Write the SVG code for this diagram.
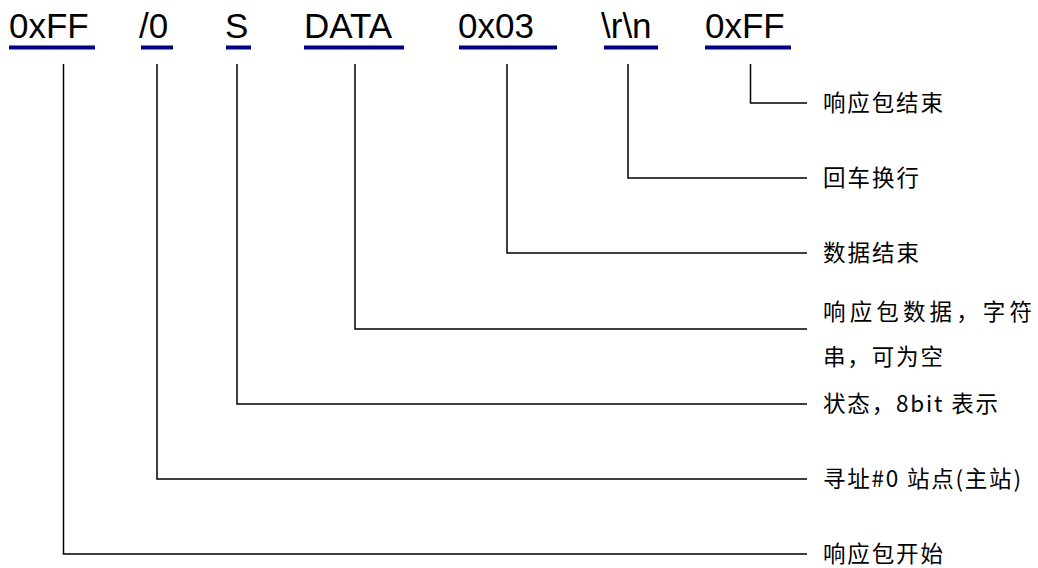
<svg xmlns="http://www.w3.org/2000/svg" width="1038" height="568" viewBox="0 0 1038 568">
<style>
.hdr{font-family:"Liberation Sans",Arial,sans-serif;font-size:35px;fill:#000}
.ul{fill:#000080}
.lbl{font-family:"Noto Sans CJK SC","Noto Sans",sans-serif;font-size:22.5px;fill:#000}
.con{fill:none;stroke:#000;stroke-width:1.5}
</style>
<rect width="1038" height="568" fill="#fff"/>
<g id="f-start"><text class="hdr" x="9" y="37.5">0xFF</text><rect class="ul" x="9" y="45.5" width="86" height="4"/></g>
<g id="f-addr"><text class="hdr" x="139" y="37.5">/0</text><rect class="ul" x="141" y="45.5" width="32" height="4"/></g>
<g id="f-status"><text class="hdr" x="225" y="37.5">S</text><rect class="ul" x="226" y="45.5" width="25" height="4"/></g>
<g id="f-data"><text class="hdr" x="304" y="37.5">DATA</text><rect class="ul" x="304" y="45.5" width="100" height="4"/></g>
<g id="f-etx"><text class="hdr" x="458" y="37.5">0x03</text><rect class="ul" x="459" y="45.5" width="98" height="4"/></g>
<g id="f-crlf"><text class="hdr" x="601" y="37.5">\r\n</text><rect class="ul" x="604" y="45.5" width="54" height="4"/></g>
<g id="f-end"><text class="hdr" x="705" y="37.5">0xFF</text><rect class="ul" x="705" y="45.5" width="86" height="4"/></g>
<g id="connectors">
<path class="con" d="M63.5 64V554H807"/>
<path class="con" d="M157 64V479H807"/>
<path class="con" d="M237 64V404H807"/>
<path class="con" d="M355 64V329H807"/>
<path class="con" d="M507 64V253H807"/>
<path class="con" d="M628 64V178H807"/>
<path class="con" d="M750.5 64V103H807"/>
</g>
<g id="l-end"><text class="lbl" x="823" y="111" textLength="120" lengthAdjust="spacing">响应包结束</text></g>
<g id="l-crlf"><text class="lbl" x="823" y="186" textLength="96" lengthAdjust="spacing">回车换行</text></g>
<g id="l-etx"><text class="lbl" x="823" y="261" textLength="96" lengthAdjust="spacing">数据结束</text></g>
<g id="l-data"><text class="lbl" x="823" y="320" textLength="209" lengthAdjust="spacing">响应包数据，字符</text><text class="lbl" x="823" y="365" textLength="120" lengthAdjust="spacing">串，可为空</text></g>
<g id="l-status"><text class="lbl" x="823" y="412" textLength="175" lengthAdjust="spacing">状态，8bit 表示</text></g>
<g id="l-addr"><text class="lbl" x="823" y="487" textLength="198" lengthAdjust="spacing">寻址#0 站点(主站)</text></g>
<g id="l-start"><text class="lbl" x="823" y="562" textLength="120" lengthAdjust="spacing">响应包开始</text></g>
</svg>
